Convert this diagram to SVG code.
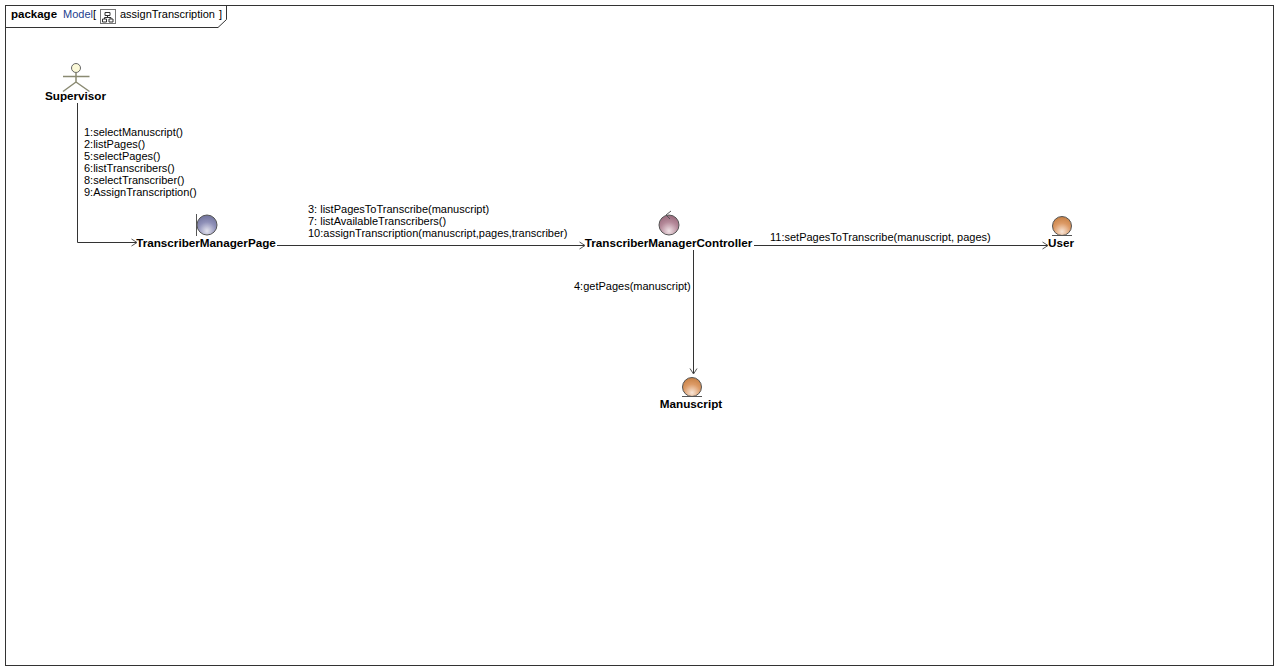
<svg xmlns="http://www.w3.org/2000/svg" width="1279" height="670" viewBox="0 0 1279 670">
<style>
text{font-family:"Liberation Sans",Arial,sans-serif;font-size:11px;fill:#000}
.n{font-weight:bold;font-size:11.7px;text-anchor:middle}
.l{fill:none;stroke:#333;stroke-width:1}
.o{stroke:#555;stroke-width:1}
</style>
<defs>
<marker id="a" markerUnits="userSpaceOnUse" markerWidth="8" markerHeight="10" refX="6" refY="5" orient="auto"><path d="M0.500 1.500L6 5L0.500 8.500" fill="none" stroke="#555"/></marker>
<radialGradient id="e" cx=".5" cy=".8" r=".75"><stop offset="0" stop-color="#f8e6d8"/><stop offset=".6" stop-color="#dc9a66"/><stop offset="1" stop-color="#c98348"/></radialGradient>
<radialGradient id="b" cx=".5" cy=".8" r=".75"><stop offset="0" stop-color="#e4e4ee"/><stop offset=".6" stop-color="#8f90b8"/><stop offset="1" stop-color="#74769f"/></radialGradient>
<radialGradient id="c" cx=".5" cy=".8" r=".75"><stop offset="0" stop-color="#f0e2e6"/><stop offset=".6" stop-color="#b58a9a"/><stop offset="1" stop-color="#9b6c7e"/></radialGradient>
</defs>
<rect width="1279" height="670" fill="#fff"/>
<g id="frame">
<rect x="5.500" y="5.500" width="1268" height="660" fill="#fff" stroke="#333"/>
<path d="M5.500 27.500H218L226.500 19.500V5.500" fill="none" stroke="#333"/>
<text x="11" y="18" style="font-size:11.500px;font-weight:bold">package</text>
<text x="63" y="18" style="fill:#24408e">Model</text>
<text x="93" y="18">[</text>
<rect x="100.500" y="9.500" width="15" height="14" fill="#fff" stroke="#777"/>
<path d="M105 12.500h5v3h-5zM102.500 19h4v3h-4zM109 19h4v3h-4zM107.500 15.500v2M104.500 19v-1.500h6.500V19" fill="none" stroke="#333"/>
<text x="120" y="18">assignTranscription</text>
<text x="219" y="18">]</text>
</g>
<g id="connectors">
<path class="l" d="M77.500 103V242.500H137" marker-end="url(#a)"/>
<path class="l" d="M277 245.500H585" marker-end="url(#a)"/>
<path class="l" d="M754 245.500H1048" marker-end="url(#a)"/>
<path class="l" d="M693.500 250V374" marker-end="url(#a)"/>
</g>
<g id="connector-labels">
<text x="84" y="136">1:selectManuscript()</text>
<text x="84" y="148">2:listPages()</text>
<text x="84" y="160">5:selectPages()</text>
<text x="84" y="172">6:listTranscribers()</text>
<text x="84" y="184">8:selectTranscriber()</text>
<text x="84" y="196">9:AssignTranscription()</text>
<text x="308" y="213">3: listPagesToTranscribe(manuscript)</text>
<text x="308" y="225">7: listAvailableTranscribers()</text>
<text x="308" y="237">10:assignTranscription(manuscript,pages,transcriber)</text>
<text x="770" y="241">11:setPagesToTranscribe(manuscript, pages)</text>
<text x="574" y="290">4:getPages(manuscript)</text>
</g>
<g id="Supervisor">
<circle cx="76" cy="68" r="4.500" fill="#fbf9d8" stroke="#666"/>
<path d="M76 72.500V82M63 76.500H89.500M76 82L63 91.500M76 82L89.500 91.500" fill="none" stroke="#8a8a72" stroke-width="1.500"/>
<text class="n" x="75.500" y="100">Supervisor</text>
</g>
<g id="TranscriberManagerPage">
<path class="o" d="M196.500 214V236"/>
<circle cx="207" cy="225" r="10" fill="url(#b)" stroke="#555"/>
<text class="n" x="206" y="247">TranscriberManagerPage</text>
</g>
<g id="TranscriberManagerController">
<circle cx="669" cy="225" r="10" fill="url(#c)" stroke="#555"/>
<path class="o" d="M671 211L666 215L670 219" fill="none"/>
<text class="n" x="668.500" y="247">TranscriberManagerController</text>
</g>
<g id="User">
<circle cx="1062" cy="226" r="9.500" fill="url(#e)" stroke="#555"/>
<path class="o" d="M1052 235.500H1072"/>
<text class="n" x="1061" y="247">User</text>
</g>
<g id="Manuscript">
<circle cx="692" cy="387" r="9.500" fill="url(#e)" stroke="#555"/>
<path class="o" d="M682 396.500H702"/>
<text class="n" x="691" y="408">Manuscript</text>
</g>
</svg>
